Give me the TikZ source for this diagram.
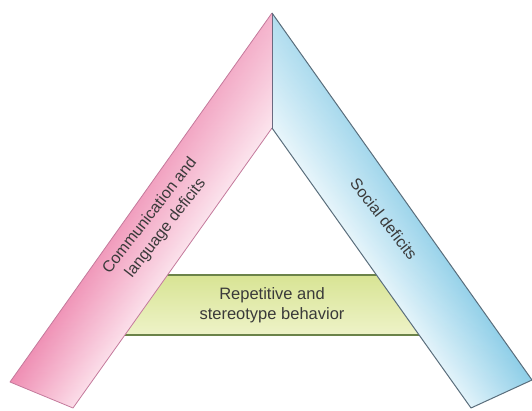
\documentclass[tikz,border=0pt]{standalone}
\usepackage{fontspec}
\setmainfont{Liberation Sans}
\usetikzlibrary{fadings}
\definecolor{pinkdark}{HTML}{EE86AE}
\definecolor{pinklight}{HTML}{FCE2EC}
\definecolor{pinkline}{HTML}{C47A9C}
\definecolor{bluedark}{HTML}{84CAE6}
\definecolor{bluelight}{HTML}{E6F5FB}
\definecolor{blueline}{HTML}{5A6E7C}
\definecolor{midline}{HTML}{6A6A80}
\definecolor{greentop}{HTML}{D8E494}
\definecolor{greenbot}{HTML}{EEF3C8}
\definecolor{greenline}{HTML}{6B8349}
\definecolor{txt}{HTML}{3A3A3A}
\tikzfading[name=fadetop, top color=transparent!65, bottom color=transparent!100]
\begin{document}
\begin{tikzpicture}[x=1pt,y=1pt,
  lab/.style={text=txt, font=\fontsize{16}{20}\selectfont, align=center, inner sep=0pt}]
\useasboundingbox (0,0) rectangle (532,410);
\coordinate (A) at (272,397);
\coordinate (I) at (272,282);
\coordinate (L1) at (10,28);
\coordinate (L2) at (73,2);
\coordinate (R1) at (532,30);
\coordinate (R2) at (471,2);
\coordinate (GTL) at (163,135);
\coordinate (GTR) at (381,135);
\coordinate (GBL) at (120,75);
\coordinate (GBR) at (424,75);
% green band
\shade[top color=greentop, bottom color=greenbot] (GTL) -- (GTR) -- (GBR) -- (GBL) -- cycle;
\draw[greenline, line width=2pt] (GTL) -- (GTR);
\draw[greenline, line width=2pt] (GBL) -- (GBR);
% pink band
\begin{scope}
  \clip (A) -- (I) -- (L2) -- (L1) -- cycle;
  \begin{scope}[transform canvas={shift={(272pt,397pt)}, rotate=-35.4}]
    \shade[left color=pinkdark, right color=pinklight] (-4,-470) rectangle (70,6);
  \end{scope}
  \fill[white, path fading=fadetop] (A) -- (I) -- (L2) -- (L1) -- cycle;
\end{scope}
\draw[pinkline, line width=0.8pt, line join=round] (A) -- (L1) -- (L2) -- (I);
% blue band
\begin{scope}
  \clip (A) -- (I) -- (R2) -- (R1) -- cycle;
  \begin{scope}[transform canvas={shift={(272pt,397pt)}, rotate=35.4}]
    \shade[left color=bluelight, right color=bluedark] (-70,-470) rectangle (4,6);
  \end{scope}
  \fill[white, path fading=fadetop] (A) -- (I) -- (R2) -- (R1) -- cycle;
\end{scope}
\draw[blueline, line width=1pt, line join=round] (A) -- (R1) -- (R2) -- (I);
\draw[midline, line width=1pt] (A) -- (I);
% labels
\node[lab, rotate=52] (comm) at (158,188) {Communication and\\language deficits};
\node[lab, rotate=-52] (soc) at (384,191) {Social deficits};
\node[lab, font=\fontsize{16.5}{20}\selectfont] (rep) at (272,105) {Repetitive and\\stereotype behavior};
\end{tikzpicture}
\end{document}
